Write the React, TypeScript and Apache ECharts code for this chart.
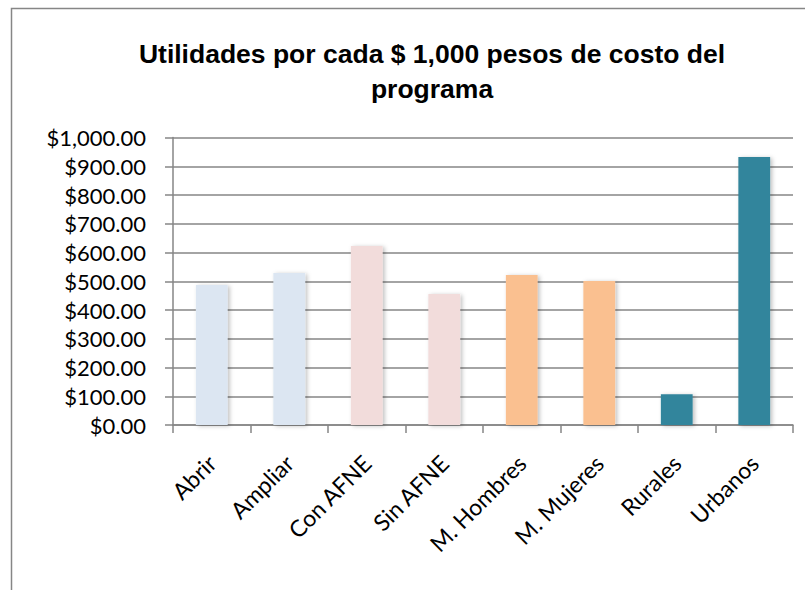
import React, { useEffect, useRef } from "react";
import * as echarts from "echarts";

const categories = ["Abrir", "Ampliar", "Con AFNE", "Sin AFNE", "M. Hombres", "M. Mujeres", "Rurales", "Urbanos"];
const values = [487, 529, 623, 456, 522, 501, 107, 932];
const barColors = ["#DCE6F2", "#DCE6F2", "#F2DCDB", "#F2DCDB", "#FAC090", "#FAC090", "#31859C", "#31859C"];
const titleLines = ["Utilidades por cada $ 1,000 pesos de costo del", "programa"];

const fmt = (v: number) =>
  "$" + v.toLocaleString("en-US", { minimumFractionDigits: 2, maximumFractionDigits: 2 });

export default function App() {
  const ref = useRef<HTMLDivElement>(null);
  useEffect(() => {
    const el = ref.current!;
    const chart = echarts.init(el, null, { renderer: "svg" });
    const grey = "#868686";
    chart.setOption({
      animation: false,
      title: {
        text: titleLines.join("\n"),
        left: 427,
        textAlign: "center",
        top: 31,
        textStyle: {
          fontFamily: "Liberation Sans, Arial, sans-serif",
          fontWeight: "bold",
          fontSize: 26.5,
          lineHeight: 35,
          color: "#000",
        },
      },
      graphic: [
        {
          type: "rect",
          shape: { x: 11.5, y: 8.5, width: 900, height: 700 },
          style: { fill: "none", stroke: grey, lineWidth: 1.5 },
          silent: true,
        },
      ],
      grid: { left: 173, right: 12, top: 137.5, bottom: 165, containLabel: false },
      xAxis: {
        type: "category",
        data: categories,
        axisLine: { show: true, lineStyle: { color: grey, width: 1.5 } },
        axisTick: { show: true, length: 8, alignWithLabel: false, lineStyle: { color: grey, width: 1.5 } },
        axisLabel: {
          rotate: 45,
          interval: 0,
          margin: 34,
          fontFamily: "Lato, sans-serif",
          fontSize: 23,
          color: "#000",
        },
      },
      yAxis: {
        type: "value",
        min: 0,
        max: 1000,
        interval: 100,
        axisLine: { show: true, lineStyle: { color: grey, width: 1.5 } },
        axisTick: { show: true, length: 8, inside: false, lineStyle: { color: grey, width: 1.5 } },
        splitLine: { show: true, lineStyle: { color: grey, width: 1.5 } },
        axisLabel: {
          margin: 27,
          formatter: fmt,
          fontFamily: "Lato, sans-serif",
          fontSize: 22,
          color: "#000",
        },
      },
      series: [
        {
          type: "bar",
          barWidth: "41%",
          data: values.map((v, i) => ({
            value: v,
            itemStyle: {
              color: barColors[i],
              shadowColor: "rgba(0,0,0,0.25)",
              shadowBlur: 4,
              shadowOffsetX: 2,
              shadowOffsetY: 1,
            },
          })),
        },
      ],
    });
    return () => chart.dispose();
  }, []);
  return <div ref={ref} style={{ width: 805, height: 590, position: "absolute", left: 0, top: 0, background: "#fff" }} />;
}
